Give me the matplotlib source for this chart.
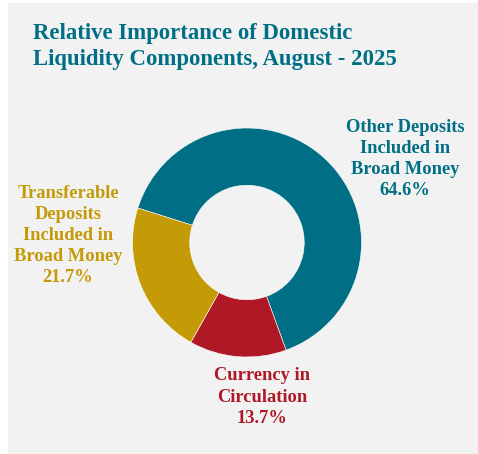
import matplotlib
matplotlib.use("Agg")
import matplotlib.pyplot as plt
from matplotlib.patches import Rectangle

# Domestic liquidity components, August 2025 (share of total, %)
components = ["Other Deposits\nIncluded in\nBroad Money",
              "Currency in\nCirculation",
              "Transferable\nDeposits\nIncluded in\nBroad Money"]
shares = [64.6, 13.7, 21.7]
colors = ["#006F86", "#AF1926", "#C49A06"]
title_lines = ["Relative Importance of Domestic",
               "Liquidity Components, August - 2025"]

W, H = 478, 454
fig = plt.figure(figsize=(W / 100, H / 100), dpi=100)
fig.patch.set_facecolor("white")

def fx(px):
    return px / W

def fy(py):
    return 1 - py / H

# light grey panel behind the chart
fig.patches.append(Rectangle((fx(8), 0), fx(470), 1 - 3 / H, transform=fig.transFigure,
                             facecolor="#F2F2F2", edgecolor="none", zorder=-5))

serif = ["Liberation Serif", "DejaVu Serif"]

# title
for i, line in enumerate(title_lines):
    fig.text(fx(33), fy(38.5 + 26 * i), line, color="#006F86", fontsize=16.4,
             fontweight="bold", family=serif, ha="left", va="baseline")

# donut
cx, cy, r = 247, 242.5, 114.5
ax = fig.add_axes([fx(cx - r), fy(cy + r), (2 * r) / W, (2 * r) / H])
ax.set_facecolor("none")
ax.set_zorder(2)
ax.pie(shares, colors=colors, startangle=162.5, counterclock=False, radius=1,
       wedgeprops=dict(width=0.5, edgecolor="white", linewidth=0.4))
ax.set_xlim(-1, 1)
ax.set_ylim(-1, 1)
ax.set_aspect("equal")
ax.axis("off")

# data labels: (center x, first baseline y) in pixels
label_pos = [(405, 131.5), (262, 380.5), (68, 197.5)]
step = 21.2
for name, val, col, (lx, ly) in zip(components, shares, colors, label_pos):
    lines = name.split("\n") + [f"{val:.1f}%"]
    for j, line in enumerate(lines):
        fig.text(fx(lx), fy(ly + step * j), line, color=col, fontsize=13.3,
                 fontweight="bold", family=serif, ha="center", va="baseline")

fig.savefig("out.png", dpi=100, facecolor=fig.get_facecolor())
